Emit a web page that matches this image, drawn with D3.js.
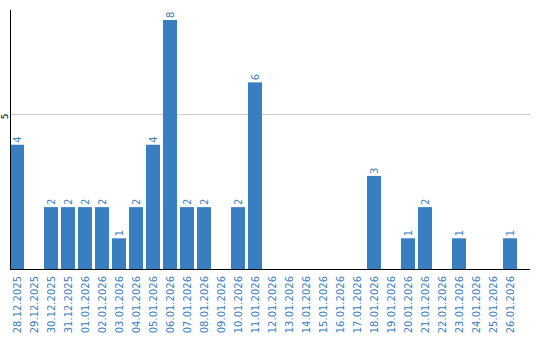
<!DOCTYPE html>
<html><head><meta charset="utf-8">
<script src="https://cdn.jsdelivr.net/npm/d3@7"></script>
<style>body{margin:0;background:#fff}svg{display:block}</style>
</head><body>
<svg id="c" width="540" height="340"></svg>
<script>
const categories = ["28.12.2025","29.12.2025","30.12.2025","31.12.2025","01.01.2026","02.01.2026","03.01.2026","04.01.2026","05.01.2026","06.01.2026","07.01.2026","08.01.2026","09.01.2026","10.01.2026","11.01.2026","12.01.2026","13.01.2026","14.01.2026","15.01.2026","16.01.2026","17.01.2026","18.01.2026","19.01.2026","20.01.2026","21.01.2026","22.01.2026","23.01.2026","24.01.2026","25.01.2026","26.01.2026"];
const values = [4,0,2,2,2,2,1,2,4,8,2,2,0,2,6,0,0,0,0,0,0,3,0,1,2,0,1,0,0,1];
const yTicks = [5];

const svg = d3.select("#c");
const color = "#3a7ec2";
const font = "DejaVu Sans, Verdana, sans-serif";
const pi = 3/17;
const x = d3.scaleBand().domain(categories).range([8.5, 518.5]).paddingInner(pi).paddingOuter(pi/2);
const y = d3.scaleLinear().domain([0, 8.32]).range([269.5, 10]);

// gridlines
svg.selectAll(".grid").data(yTicks).enter().append("line")
  .attr("x1", 10).attr("x2", 530).attr("y1", d => Math.round(y(d)) + 0.5).attr("y2", d => Math.round(y(d)) + 0.5)
  .attr("stroke", "#cccccc").attr("stroke-width", 1);

// bars
svg.selectAll(".bar").data(values).enter().append("rect")
  .attr("x", (d, i) => x(categories[i])).attr("width", x.bandwidth())
  .attr("y", d => y(d)).attr("height", d => y(0) - y(d))
  .attr("fill", color);

// value labels
svg.selectAll(".vl").data(values.map((v, i) => ({v, c: categories[i]})).filter(d => d.v > 0)).enter().append("text")
  .attr("transform", d => `translate(${x(d.c) + x.bandwidth()/2},${y(d.v) - 2}) rotate(-90)`)
  .attr("dy", "0.35em").attr("text-anchor", "start")
  .attr("font-family", font).attr("font-size", 10).attr("fill", color)
  .text(d => d.v);

// axes lines
svg.append("line").attr("x1", 10.5).attr("x2", 10.5).attr("y1", 10).attr("y2", 270).attr("stroke", "#000");
svg.append("line").attr("x1", 10).attr("x2", 530).attr("y1", 269.5).attr("y2", 269.5).attr("stroke", "#000");

// y tick labels
svg.selectAll(".yl").data(yTicks).enter().append("text")
  .attr("transform", d => `translate(7.5,${y(d)}) rotate(-90)`)
  .attr("text-anchor", "end")
  .attr("font-family", font).attr("font-size", 9).attr("fill", "#000")
  .text(d => d);

// x labels
svg.selectAll(".xl").data(categories).enter().append("text")
  .attr("transform", d => `translate(${x(d) + x.bandwidth()/2},276) rotate(-90)`)
  .attr("dy", "0.35em").attr("text-anchor", "end")
  .attr("font-family", font).attr("font-size", 10).attr("fill", color)
  .text(d => d);
</script>
</body></html>
